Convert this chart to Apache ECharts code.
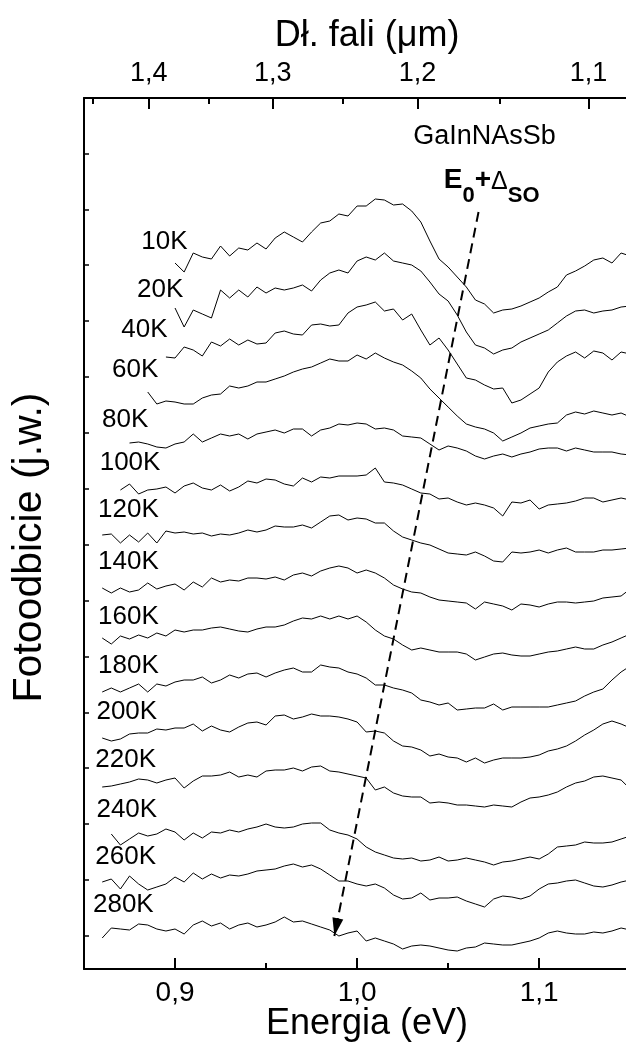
<!DOCTYPE html>
<html>
<head>
<meta charset="utf-8">
<title>Fotoodbicie GaInNAsSb</title>
<script src="https://cdn.jsdelivr.net/npm/echarts@6/dist/echarts.min.js"></script>
<style>
  html, body { margin: 0; padding: 0; background: #fff; }
  #chart { width: 626px; height: 1042px; }
</style>
</head>
<body>
<div id="chart"></div>
<script>
// siatka energii (eV) wspolna dla wszystkich widm
var energies = [0.860, 0.865, 0.870, 0.875, 0.880, 0.885, 0.890, 0.895, 0.900, 0.905,
  0.910, 0.915, 0.920, 0.925, 0.930, 0.935, 0.940, 0.945, 0.950, 0.955,
  0.960, 0.965, 0.970, 0.975, 0.980, 0.985, 0.990, 0.995, 1.000, 1.005,
  1.010, 1.015, 1.020, 1.025, 1.030, 1.035, 1.040, 1.045, 1.050, 1.055,
  1.060, 1.065, 1.070, 1.075, 1.080, 1.085, 1.090, 1.095, 1.100, 1.105,
  1.110, 1.115, 1.120, 1.125, 1.130, 1.135, 1.140, 1.145, 1.150];

var temps = ['10K', '20K', '40K', '60K', '80K', '100K', '120K', '140K', '160K',
  '180K', '200K', '220K', '240K', '260K', '280K'];
// indeks energii od ktorego zaczyna sie dane widmo
var startIndex = [8, 8, 7, 5, 3, 2, 0, 0, 0, 0, 0, 0, 1, 0, 0];

// widma PR (j.w.), juz przesuniete w pionie
var r10 = [706, 697, 716, 712, 710, 723, 713, 721, 719, 726, 720, 731, 737, 732, 727, 737, 746, 748, 755, 753,
  763, 763, 770, 769, 764, 765, 758, 747, 728, 710, 702, 692, 682, 669, 665, 656, 659, 660, 663, 667,
  671, 677, 682, 694, 698, 703, 709, 711, 706, 716, 713];
var r20 = [661, 642, 659, 655, 651, 679, 671, 679, 672, 682, 676, 681, 679, 681, 684, 678, 689, 696, 699, 696,
  708, 712, 709, 716, 708, 706, 704, 698, 687, 675, 668, 654, 637, 624, 621, 615, 619, 621, 627, 631,
  635, 639, 646, 653, 658, 659, 656, 658, 659, 662, 663];
var r40 = [612, 611, 622, 619, 613, 627, 623, 630, 624, 629, 625, 626, 636, 638, 635, 634, 644, 645, 643, 644,
  656, 662, 664, 667, 658, 660, 649, 655, 639, 624, 631, 619, 605, 591, 589, 584, 580, 581, 566, 569,
  575, 581, 597, 607, 613, 617, 611, 618, 616, 609, 617, 615];
var r60 = [577, 565, 568, 567, 565, 565, 571, 574, 575, 583, 581, 583, 587, 587, 590, 593, 597, 600, 602, 606,
  610, 608, 608, 614, 610, 616, 611, 607, 604, 598, 591, 580, 571, 562, 553, 545, 542, 540, 536, 528,
  532, 536, 541, 543, 545, 546, 554, 557, 555, 558, 556, 554, 556, 552];
var r80 = [526, 527, 525, 522, 521, 525, 527, 535, 527, 531, 535, 533, 535, 530, 535, 537, 539, 536, 540, 540,
  533, 539, 541, 545, 544, 546, 545, 540, 541, 539, 533, 532, 531, 525, 519, 523, 521, 518, 513, 510,
  513, 515, 512, 515, 517, 520, 521, 521, 518, 521, 519, 517, 517, 517, 515, 514];
var r100 = [479, 485, 475, 479, 480, 482, 476, 483, 486, 481, 479, 484, 478, 482, 488, 486, 490, 489, 485, 483,
  491, 487, 492, 491, 493, 493, 493, 494, 501, 487, 486, 484, 480, 476, 475, 470, 471, 467, 464, 466,
  464, 461, 453, 467, 466, 469, 460, 464, 465, 466, 468, 471, 471, 467, 469, 471, 469];
var r120 = [434, 435, 426, 434, 427, 436, 426, 438, 436, 437, 435, 436, 433, 435, 434, 436, 439, 437, 439, 443,
  442, 442, 444, 441, 447, 453, 454, 449, 451, 450, 446, 446, 438, 432, 429, 426, 424, 420, 416, 415,
  414, 417, 413, 408, 407, 417, 416, 417, 419, 416, 419, 421, 417, 417, 417, 419, 419, 420, 421];
var r140 = [381, 376, 381, 377, 379, 386, 380, 383, 385, 379, 387, 382, 391, 387, 389, 388, 391, 391, 390, 392,
  389, 394, 396, 393, 398, 401, 403, 401, 396, 399, 396, 391, 384, 380, 377, 376, 372, 369, 368, 367,
  366, 360, 367, 365, 363, 359, 365, 364, 362, 365, 367, 367, 366, 367, 368, 371, 372, 373, 380];
var r160 = [331, 325, 333, 330, 334, 331, 336, 333, 339, 337, 339, 339, 341, 342, 340, 338, 337, 340, 342, 342,
  344, 348, 351, 350, 353, 350, 353, 350, 353, 347, 339, 333, 330, 324, 319, 321, 319, 317, 317, 317,
  315, 309, 312, 315, 316, 314, 313, 313, 315, 317, 318, 320, 322, 320, 320, 324, 327, 331, 335];
var r180 = [277, 281, 277, 281, 285, 277, 285, 283, 287, 289, 289, 292, 286, 289, 294, 291, 295, 296, 292, 296,
  299, 301, 297, 297, 304, 302, 301, 297, 295, 291, 284, 284, 281, 279, 276, 269, 267, 264, 266, 259,
  260, 261, 261, 265, 259, 262, 262, 262, 262, 262, 264, 266, 268, 273, 277, 280, 289, 297, 303];
var r200 = [231, 228, 230, 235, 236, 236, 240, 239, 241, 241, 245, 238, 243, 239, 237, 242, 246, 247, 244, 253,
  254, 250, 252, 255, 253, 253, 252, 250, 247, 237, 238, 236, 228, 223, 222, 219, 213, 215, 212, 211,
  207, 211, 206, 209, 211, 211, 211, 212, 214, 218, 220, 223, 228, 234, 239, 245, 248, 245, 241];
var r220 = [182, 183, 185, 187, 190, 189, 186, 189, 191, 181, 188, 193, 193, 194, 197, 192, 194, 192, 198, 199,
  199, 201, 198, 202, 203, 198, 197, 195, 193, 191, 179, 182, 176, 173, 172, 172, 166, 167, 166, 164,
  164, 163, 162, 164, 163, 162, 167, 171, 172, 174, 177, 182, 186, 188, 192, 193, 191, 189, 180];
var r240 = [135, 124, 130, 136, 133, 135, 140, 137, 129, 136, 131, 137, 136, 139, 137, 140, 142, 145, 142, 141,
  142, 145, 146, 146, 139, 136, 134, 130, 122, 117, 114, 111, 110, 111, 108, 109, 112, 108, 109, 111,
  109, 107, 104, 107, 108, 110, 112, 110, 115, 122, 123, 124, 127, 126, 126, 127, 130, 133];
var r260 = [87, 90, 80, 93, 85, 79, 82, 85, 92, 87, 96, 90, 95, 91, 94, 93, 95, 98, 99, 100,
  103, 105, 102, 104, 100, 94, 88, 88, 85, 83, 85, 81, 74, 70, 71, 76, 69, 71, 71, 72,
  68, 65, 62, 70, 73, 72, 70, 73, 80, 85, 86, 88, 89, 86, 83, 82, 84, 87, 89];
var r280 = [31, 41, 40, 39, 45, 44, 40, 38, 40, 35, 44, 48, 43, 46, 40, 44, 46, 42, 44, 47,
  52, 47, 48, 45, 42, 39, 33, 36, 38, 28, 31, 28, 25, 20, 23, 24, 23, 21, 19, 18,
  21, 22, 26, 25, 24, 24, 26, 28, 31, 36, 38, 36, 35, 35, 37, 36, 38, 41, 39];

var curves = [r10, r20, r40, r60, r80, r100, r120, r140, r160, r180, r200, r220, r240, r260, r280];

// gdzie stoja podpisy temperatur (eV, j.w.)
var labelEnergy = [0.8942, 0.8918, 0.8832, 0.8781, 0.8726, 0.8753, 0.8744, 0.8744, 0.8744, 0.8744,
  0.8735, 0.8729, 0.8735, 0.8729, 0.8716];
var labelLevel = [727, 679, 639, 599, 549, 506, 459, 407, 352, 303, 257, 209, 159, 112, 64];

// osie
var energyTicksMajor = [0.9, 1.0, 1.1];
var energyTicksMinor = [0.85, 0.95, 1.05];
var waveTicksMajor = [1.4, 1.3, 1.2, 1.1];   // um
var waveTicksMinor = [1.45, 1.35, 1.25, 1.15];
var levelTicks = [33, 89, 145, 201, 256, 312, 368, 424, 480, 536, 592, 648, 704, 759, 815, 871];

// strzalka E0+dSO (poczatek, czubek)
var arrowFrom = [1.0667, 757];
var arrowTo = [0.9875, 33];

var HC = 1.23984; // eV*um
function toEnergy(lam) { return HC / lam; }

var xMin = 0.85, xMax = 1.1477;
var font = 'Liberation Sans, Arial, Helvetica, sans-serif';

var chart = echarts.init(document.getElementById('chart'));

var series = curves.map(function (vals, k) {
  var s = startIndex[k];
  return {
    type: 'line',
    name: temps[k],
    xAxisIndex: 0,
    yAxisIndex: 0,
    data: vals.map(function (v, j) { return [energies[s + j], v]; }),
    symbol: 'none',
    showSymbol: false,
    silent: true,
    animation: false,
    lineStyle: { color: '#000', width: 1 }
  };
});

var notes = temps.map(function (t, k) {
  return { name: t, value: [labelEnergy[k], labelLevel[k]] };
});
notes.push({
  name: 'GaInNAsSb', value: [1.0700, 832],
  label: { fontSize: 27 }
});
notes.push({
  name: 'E0+dSO', value: [1.0739, 789],
  label: {
    formatter: '{e|E}{s|0}{e|+}{d|\u0394}{s|SO}',
    rich: {
      e: { fontSize: 28, fontWeight: 'bold', color: '#000', fontFamily: font },
      s: { fontSize: 22, fontWeight: 'bold', color: '#000', fontFamily: font, padding: [32, 0, 0, 0] },
      d: { fontSize: 25, color: '#000', fontFamily: font, padding: [5, 0, 0, 0] }
    }
  }
});

series.push({
  type: 'scatter',
  xAxisIndex: 0,
  yAxisIndex: 0,
  silent: true,
  animation: false,
  symbolSize: 0,
  itemStyle: { color: '#000', opacity: 1 },
  label: {
    show: true,
    position: 'inside',
    formatter: '{b}',
    fontSize: 26,
    color: '#000',
    opacity: 1,
    fontFamily: font
  },
  data: notes,
  markLine: {
    silent: true,
    animation: false,
    symbol: ['none', 'none'],
    label: { show: false },
    lineStyle: { color: '#000', width: 2, type: [10, 6], opacity: 1 },
    emphasis: { disabled: true },
    data: [[{ coord: arrowFrom }, { coord: arrowTo }]]
  }
});

function commaFmt(v) { return v.toFixed(1).replace('.', ','); }

var option = {
  backgroundColor: '#fff',
  animation: false,
  textStyle: { fontFamily: font, color: '#000' },
  grid: { left: 84, right: 0, top: 98, bottom: 73, outerBoundsMode: 'none' },
  xAxis: [
    {
      type: 'value', position: 'bottom', min: xMin, max: xMax,
      name: 'Energia (eV)', nameLocation: 'middle', nameGap: 37, nameMoveOverlap: false,
      nameTextStyle: { fontSize: 36, color: '#000', fontFamily: font, padding: [0, 0, 0, 24] },
      axisLine: { show: true, lineStyle: { color: '#000', width: 2 } },
      axisTick: { show: true, inside: true, length: 11, lineStyle: { color: '#000', width: 2 }, customValues: energyTicksMajor },
      axisLabel: { show: true, customValues: energyTicksMajor, formatter: commaFmt, fontSize: 28, color: '#000', margin: 10, fontFamily: font },
      splitLine: { show: false }
    },
    {
      type: 'value', position: 'bottom', min: xMin, max: xMax,
      axisLine: { show: false },
      axisTick: { show: true, inside: true, length: 6, lineStyle: { color: '#000', width: 2 }, customValues: energyTicksMinor },
      axisLabel: { show: false },
      splitLine: { show: false }
    },
    {
      type: 'value', position: 'top', min: xMin, max: xMax,
      name: 'D\u0142. fali (\u03bcm)', nameLocation: 'middle', nameGap: 44, nameMoveOverlap: false,
      nameTextStyle: { fontSize: 36, color: '#000', fontFamily: font, padding: [0, 0, 0, 24] },
      axisLine: { show: true, lineStyle: { color: '#000', width: 2 } },
      axisTick: { show: true, inside: true, length: 11, lineStyle: { color: '#000', width: 2 }, customValues: waveTicksMajor.map(toEnergy) },
      axisLabel: {
        show: true, customValues: waveTicksMajor.map(toEnergy),
        formatter: function (v) { return commaFmt(HC / v); },
        fontSize: 27, color: '#000', margin: 11, fontFamily: font
      },
      splitLine: { show: false }
    },
    {
      type: 'value', position: 'top', min: xMin, max: xMax,
      axisLine: { show: false },
      axisTick: { show: true, inside: true, length: 6, lineStyle: { color: '#000', width: 2 }, customValues: waveTicksMinor.map(toEnergy) },
      axisLabel: { show: false },
      splitLine: { show: false }
    }
  ],
  yAxis: {
    type: 'value', min: 0, max: 871,
    name: 'Fotoodbicie (j.w.)', nameLocation: 'middle', nameGap: 34, nameMoveOverlap: false,
    nameTextStyle: { fontSize: 41, color: '#000', fontFamily: font, padding: [0, 28, 0, 0] },
    axisLine: { show: true, lineStyle: { color: '#000', width: 2 } },
    axisTick: { show: true, inside: true, length: 5, lineStyle: { color: '#000', width: 1.5 }, customValues: levelTicks },
    axisLabel: { show: false },
    splitLine: { show: false }
  },
  series: series
};

chart.setOption(option);

// grot strzalki: kierunek liczony ze skali osi
var ref = { xAxisIndex: 0, yAxisIndex: 0 };
var pA = chart.convertToPixel(ref, arrowFrom);
var pB = chart.convertToPixel(ref, arrowTo);
var dx = pB[0] - pA[0], dy = pB[1] - pA[1];
var len = Math.sqrt(dx * dx + dy * dy);
var headLen = 18;
var headCenter = chart.convertFromPixel(ref, [pB[0] - dx / len * headLen / 2, pB[1] - dy / len * headLen / 2]);
var headAngle = Math.atan2(-dx, -dy) * 180 / Math.PI;

series.push({
  type: 'scatter',
  xAxisIndex: 0,
  yAxisIndex: 0,
  silent: true,
  animation: false,
  symbol: 'triangle',
  symbolSize: [11, headLen],
  symbolRotate: headAngle,
  itemStyle: { color: '#000', opacity: 1 },
  data: [headCenter]
});
chart.setOption({ series: series });
</script>
</body>
</html>
